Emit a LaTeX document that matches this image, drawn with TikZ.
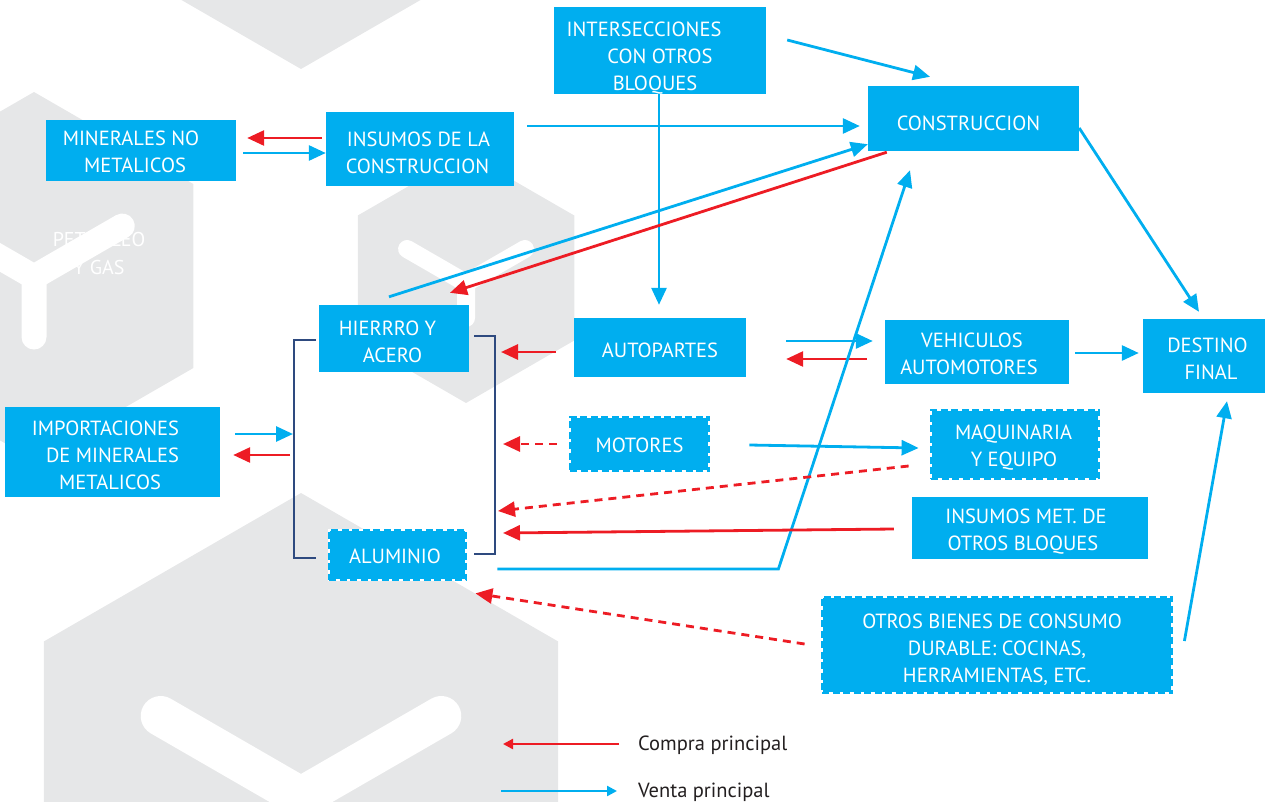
\documentclass[tikz,border=0pt]{standalone}
\usepackage{fontspec}
\setmainfont{PT Sans}
\usetikzlibrary{arrows.meta}
\definecolor{cb}{HTML}{00AEEF}
\definecolor{cr}{HTML}{ED1C24}
\definecolor{hexg}{HTML}{E6E7E8}
\definecolor{brk}{HTML}{2E4A7F}
\definecolor{txt}{HTML}{231F20}
\pgfdeclarelayer{hexlayer}
\pgfdeclarelayer{linklayer}
\pgfsetlayers{hexlayer,linklayer,main}
\newcommand\hexbg[3]{\fill[hexg] (#1,#2) +(90:#3) -- +(30:#3) -- +(-30:#3) -- +(-90:#3) -- +(-150:#3) -- +(150:#3) -- cycle;}
\newcommand\dn[1]{\rule{0pt}{\dimexpr 15pt+#1pt*2\relax}}
\newcommand\sh[1]{\hspace*{#1pt}}
\begin{document}
\begin{tikzpicture}[x=1pt,y=-1pt,
  box/.style={fill=cb, text=white, inner sep=0pt, align=center, font=\fontsize{20.5}{27}\selectfont},
  dbox/.style={box, draw=white, line width=2.8pt, postaction={draw=cb, line width=2.8pt, dash pattern=on 7pt off 3.5pt}},
  venta/.style={draw=cb, line width=2.8pt, -{Triangle[length=17pt,width=15pt]}},
  compra/.style={draw=cr, line width=2.8pt, -{Triangle[length=17pt,width=15pt]}},
  compradash/.style={compra, dash pattern=on 8pt off 6pt},
  bracket/.style={draw=brk, line width=1.5pt},
  yshape/.style={draw=white, line cap=round, line join=round},
  legtext/.style={text=txt, inner sep=0pt, anchor=base west, font=\fontsize{20.5}{24}\selectfont},
  legventa/.style={draw=cb, line width=2.3pt, -{Triangle[length=10pt,width=10pt]}},
  legcompra/.style={draw=cr, line width=2.3pt, -{Triangle[length=10pt,width=10pt]}}]
\useasboundingbox (0,0) rectangle (1266,801);
% background
\begin{pgfonlayer}{hexlayer}
\begin{scope}
\clip (0,0) rectangle (1266,801);
\hexbg{301}{-115}{184}
\hexbg{34}{276}{184}
\hexbg{466}{278}{125}
\hexbg{301}{790}{297}
\node[text=white, inner sep=0pt, align=center, font=\fontsize{20}{28}\selectfont] (pet) at (99,253) {PETROLEO\\Y GAS};
\draw[yshape, line width=25pt] (-54.3,226) -- (34,277) -- (122.3,226) (34,277) -- (34,337);
\draw[yshape, line width=18pt] (407.1,249) -- (466,283) -- (524.9,249) (466,283) -- (466,318);
\draw[yshape, line width=40pt] (160.7,716) -- (301,797) -- (441.3,716) (301,797) -- (301,900);
\end{scope}
\end{pgfonlayer}
% boxes
\node[box, minimum width=212pt, minimum height=85pt] (inter) at (660,50.5) {\dn{7}INTERSECCIONES\sh{32}\\CON OTROS\sh{12}\\BLOQUES\sh{10}};
\node[box, minimum width=211pt, minimum height=65pt] (cons) at (973.5,118.5) {\dn{5}CONSTRUCCION\sh{10}};
\node[box, minimum width=190pt, minimum height=61pt] (minnm) at (141,150.5) {\dn{1}MINERALES NO\sh{20}\\METALICOS\sh{12}};
\node[box, minimum width=188pt, minimum height=74pt] (insum) at (420,149) {\dn{4}INSUMOS DE LA\sh{3}\\CONSTRUCCION\sh{5}};
\node[box, minimum width=150pt, minimum height=67pt] (hierro) at (394,338.5) {\dn{3}HIERRRO Y\sh{13}\\ACERO\sh{3}};
\node[box, minimum width=172pt, minimum height=59pt] (autop) at (660,347.5) {\dn{3}AUTOPARTES};
\node[box, minimum width=184pt, minimum height=64pt] (vehic) at (977,352) {\dn{2}VEHICULOS\sh{10}\\AUTOMOTORES\sh{16}};
\node[box, minimum width=122pt, minimum height=74pt] (dest) at (1204,356) {\dn{3}\sh{7}DESTINO\\\sh{14}FINAL};
\node[box, minimum width=215pt, minimum height=90pt] (import) at (112.5,452) {\dn{3}IMPORTACIONES\sh{14}\\DE MINERALES\sh{14}\\METALICOS\sh{5}};
\node[dbox, minimum width=139pt, minimum height=54pt] (motor) at (639.5,444) {\dn{1}MOTORES};
\node[dbox, minimum width=168pt, minimum height=69pt] (maq) at (1015,444.5) {\dn{3}MAQUINARIA\sh{3}\\Y EQUIPO\sh{2}};
\node[box, minimum width=236pt, minimum height=62pt] (insmet) at (1030,528) {\dn{3}INSUMOS MET. DE\sh{8}\\OTROS BLOQUES\sh{14}};
\node[dbox, minimum width=137pt, minimum height=50pt] (alum) at (397.5,555) {\dn{1}ALUMINIO\sh{5}};
\node[dbox, minimum width=350pt, minimum height=96pt] (otros) at (997,645) {\dn{5}OTROS BIENES DE CONSUMO\sh{10}\\DURABLE: COCINAS,\\HERRAMIENTAS, ETC.};
% brackets
\coordinate (lbt) at (294,340);
\coordinate (lbb) at (294,558);
\coordinate (rbt) at (495,336);
\coordinate (rbb) at (495,554);
\begin{pgfonlayer}{linklayer}
\draw[bracket] (316,340) -- (lbt) -- (lbb) -- (316,558);
\draw[bracket] (474,336) -- (rbt) -- (rbb) -- (474,554);
% connectors
\draw[venta] ([shift={(21,-10.5)}]inter.east) -- ([shift={(-43.5,-9)}]cons.north);
\draw[venta] ([shift={(13,-23)}]insum.east) -- ([shift={(-8,7.5)}]cons.west);
\draw[venta] ([shift={(-1,0)}]inter.south) -- ([shift={(-1,-13)}]autop.north);
\draw[compra] ([shift={(-4,-11)}]insum.west) -- ([shift={(11,-12.5)}]minnm.east);
\draw[venta] ([shift={(7,2.5)}]minnm.east) -- ([shift={(0,4)}]insum.west);
\draw[venta] ([shift={(-5,-8)}]hierro.north) -- ([shift={(0,-7)}]cons.south west);
\draw[compra] ([shift={(19,1)}]cons.south west) -- ([shift={(56,-12)}]hierro.north);
\draw[compra] ([shift={(-18,4.5)}]autop.west) -- ([shift={(6,16)}]rbt);
\draw[venta] ([shift={(40,-6.5)}]autop.east) -- ([shift={(-12,-11)}]vehic.west);
\draw[compra] ([shift={(-18,7)}]vehic.west) -- ([shift={(40,11.5)}]autop.east);
\draw[venta] ([shift={(6,1)}]vehic.east) -- ([shift={(-4,-3)}]dest.west);
\draw[venta] ([shift={(0,9.5)}]cons.east) -- ([shift={(-5,-7)}]dest.north);
\draw[venta] ([shift={(30,14)}]alum.east) -- ([shift={(311,14)}]alum.east) -- ([shift={(-63.5,19)}]cons.south);
\draw[compradash] ([shift={(-12,0)}]motor.west) -- ([shift={(8,108)}]rbt);
\draw[venta] ([shift={(39,1)}]motor.east) -- ([shift={(-11,3.5)}]maq.west);
\draw[compradash] ([shift={(-21,21.5)}]maq.west) -- ([shift={(3,-43)}]rbb);
\draw[compra] ([shift={(-18,1)}]insmet.west) -- ([shift={(8,-21)}]rbb);
\draw[compradash] ([shift={(-16,-1)}]otros.west) -- ([shift={(8,12)}]alum.south east);
\draw[venta] ([shift={(11,-4)}]otros.east) -- ([shift={(23,8)}]dest.south);
\draw[venta] ([shift={(15,-18)}]import.east) -- ([shift={(-1,94)}]lbt);
\draw[compra] ([shift={(-4,115)}]lbt) -- ([shift={(13,3)}]import.east);
\end{pgfonlayer}
% legend
\node[legtext] (lc) at (638,750) {Compra principal};
\node[legtext] (lv) at (638,797) {Venta principal};
\draw[legcompra] ([shift={(-19,-6)}]lc.base west) -- ([shift={(-135,-6)}]lc.base west);
\draw[legventa] ([shift={(-137,-6)}]lv.base west) -- ([shift={(-21,-6)}]lv.base west);
\end{tikzpicture}
\end{document}
